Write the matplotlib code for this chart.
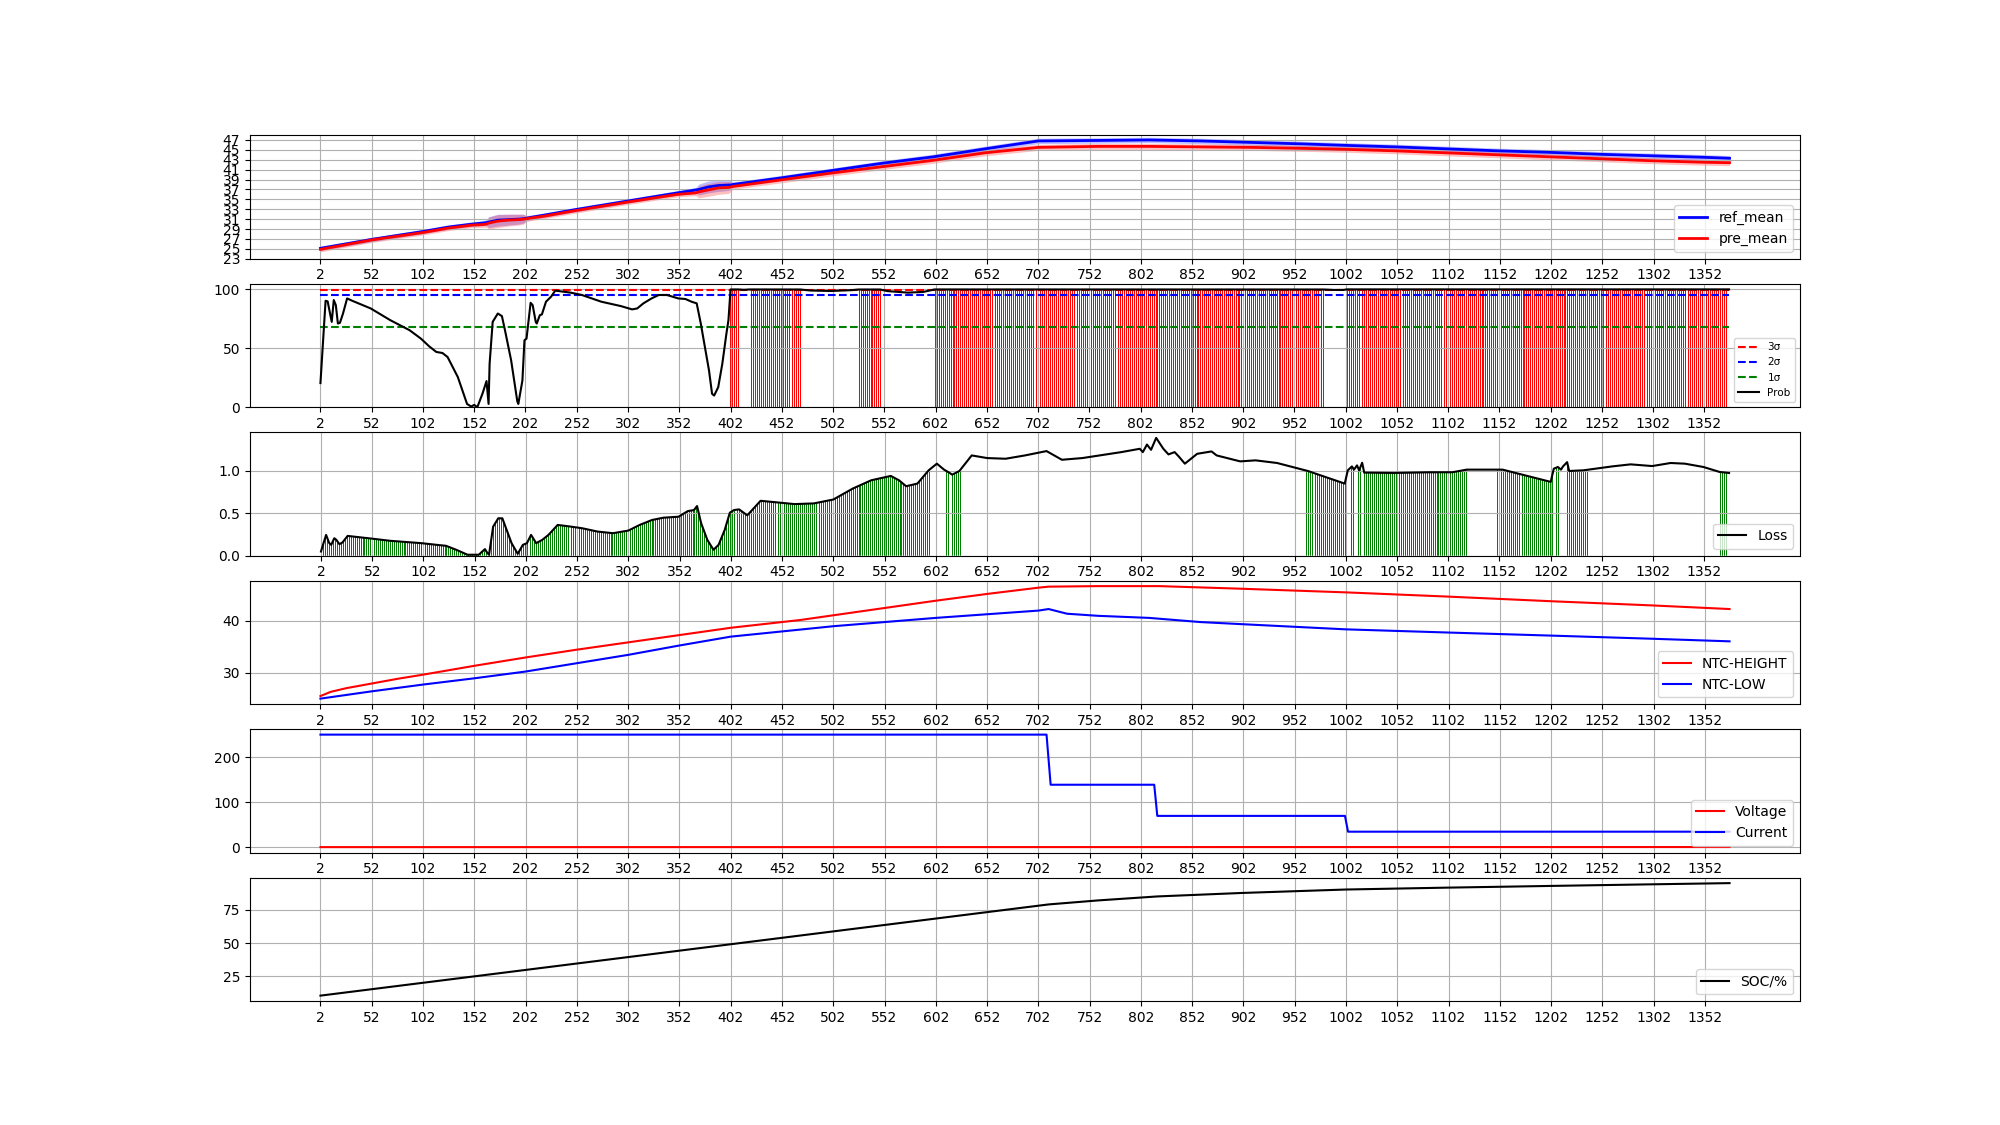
import numpy as np
import matplotlib
matplotlib.use("Agg")
import matplotlib.pyplot as plt
from matplotlib.patches import Polygon

# ---------------- data ----------------
X_FIRST, X_LAST, X_STEP = 2, 1376, 2
XTICKS = np.arange(2, 1377, 50)

# panel 1: mean temperatures with spread
T_X = [2, 52, 102, 127, 150, 160, 164, 166, 175, 185, 195, 200, 203, 220, 250, 300, 350, 368, 371, 380, 390, 400,
       402, 404, 450, 500, 550, 600, 650, 702, 760, 810, 860, 910, 960, 1002, 1050, 1100, 1150, 1200, 1250, 1300,
       1350, 1376]
REF_MEAN = [25.1, 26.9, 28.5, 29.4, 30.0, 30.2, 30.3, 30.4, 30.8, 30.9, 31.0, 31.1, 31.2, 31.8, 32.9, 34.6, 36.3,
            36.9, 37.0, 37.5, 37.8, 37.9, 37.9, 38.0, 39.3, 40.8, 42.3, 43.6, 45.2, 46.8, 46.9, 47.0, 46.8, 46.5,
            46.2, 45.9, 45.6, 45.2, 44.8, 44.5, 44.1, 43.8, 43.5, 43.3]
PRE_MEAN = [24.9, 26.8, 28.3, 29.2, 29.8, 29.9, 30.0, 30.2, 30.6, 30.8, 30.9, 31.0, 31.1, 31.6, 32.7, 34.4, 36.0,
            36.3, 36.5, 36.9, 37.3, 37.4, 37.5, 37.6, 38.9, 40.3, 41.6, 42.9, 44.4, 45.5, 45.7, 45.7, 45.6, 45.5,
            45.3, 45.1, 44.8, 44.4, 44.0, 43.6, 43.2, 42.8, 42.5, 42.4]
REF_STD = [0.45, 0.45, 0.45, 0.45, 0.45, 0.5, 0.6, 1.1, 1.2, 1.1, 1.0, 0.9, 0.5, 0.45, 0.45, 0.45, 0.45, 0.5, 1.1,
           1.2, 1.2, 1.1, 0.9, 0.5, 0.5, 0.5, 0.5, 0.55, 0.55, 0.55, 0.55, 0.55, 0.55, 0.55, 0.55, 0.55, 0.55,
           0.55, 0.55, 0.55, 0.55, 0.55, 0.55, 0.55]
PRE_STD = [0.5, 0.5, 0.5, 0.5, 0.5, 0.55, 0.65, 1.2, 1.3, 1.2, 1.1, 1.0, 0.55, 0.5, 0.5, 0.5, 0.5, 0.55, 1.2,
           1.3, 1.3, 1.2, 1.0, 0.55, 0.6, 0.6, 0.6, 0.6, 0.6, 0.6, 0.6, 0.6, 0.6, 0.6, 0.6, 0.6, 0.6,
           0.6, 0.6, 0.6, 0.6, 0.6, 0.6, 0.6]

# panel 2: probability and sigma levels
SIGMA_LEVELS = [99.73, 95.45, 68.27]
SIGMA_LABELS = ["3σ", "2σ", "1σ"]
SIGMA_COLORS = ["red", "blue", "green"]
PROB_X = [2, 7, 9, 13, 15, 17, 19, 21, 24, 28, 33, 51, 70, 89, 100, 108, 115, 121, 126, 136, 145, 149, 152, 155,
          160, 164, 166, 167, 170, 175, 179, 182, 188, 194, 195, 199, 201, 203, 207, 209, 212, 213, 216, 218, 222,
          227, 231, 246, 257, 276, 295, 306, 311, 317, 325, 332, 340, 351, 358, 364, 369, 373, 377, 381, 384, 386,
          390, 394, 398, 400, 402, 410, 415, 421, 470, 480, 500, 520, 527, 548, 555, 575, 590, 601, 981, 990, 1000,
          1003, 1376]
PROB = [20.5, 90.3, 89.8, 72.4, 90.9, 86.6, 71.0, 71.6, 79.5, 92.3, 90.3, 83.8, 73.9, 65.3, 58.2, 51.7, 46.9,
        46.0, 42.6, 25.6, 2.8, 0.6, 2.0, 0.0, 11.4, 22.2, 2.8, 36.9, 72.4, 79.5, 77.3, 65.3, 39.8, 5.1, 2.8, 22.7,
        56.8, 58.2, 88.6, 86.6, 72.4, 71.0, 78.1, 78.7, 89.5, 93.8, 98.9, 97.2, 95.2, 89.5, 85.8, 83.0, 83.8, 88.1,
        92.3, 95.2, 95.2, 92.3, 91.8, 89.5, 88.1, 71.0, 51.1, 31.3, 11.4, 9.9, 17.0, 36.9, 62.5, 73.9, 99.9, 99.9,
        99.6, 99.9, 99.85, 99.0, 98.6, 99.3, 99.85, 99.85, 98.5, 97.2, 97.8, 99.9, 99.85, 99.5, 99.5, 99.95, 99.95]
RED_RANGES = [(402, 410), (422, 470), (528, 548), (602, 980), (1004, 1376)]

# panel 3: loss
LOSS_X = [2, 7, 10, 12, 15, 17, 20, 23, 28, 51, 70, 100, 115, 124, 134, 145, 156, 162, 164, 166, 170, 175, 179,
          182, 188, 194, 199, 203, 207, 212, 218, 224, 227, 233, 246, 257, 272, 287, 302, 313, 325, 336, 351, 360,
          366, 369, 373, 379, 385, 390, 396, 401, 405, 410, 418, 431, 464, 483, 502, 521, 539, 558, 566, 573, 584,
          595, 603, 610, 614, 618, 625, 637, 652, 670, 689, 710, 725, 745, 783, 801, 804, 808, 812, 817, 824, 829,
          835, 839, 845, 857, 871, 876, 899, 914, 935, 965, 1001, 1004, 1008, 1010, 1013, 1015, 1018, 1020, 1049,
          1084, 1106, 1120, 1155, 1202, 1205, 1209, 1212, 1214, 1218, 1220, 1234, 1262, 1280, 1301, 1319, 1333,
          1351, 1367, 1376]
LOSS = [0.05, 0.245, 0.15, 0.128, 0.206, 0.187, 0.136, 0.156, 0.233, 0.202, 0.175, 0.148, 0.128, 0.117, 0.07,
        0.012, 0.012, 0.078, 0.039, 0.012, 0.342, 0.44, 0.44, 0.342, 0.148, 0.023, 0.128, 0.148, 0.245, 0.148,
        0.187, 0.245, 0.284, 0.362, 0.342, 0.323, 0.284, 0.265, 0.296, 0.362, 0.42, 0.447, 0.459, 0.525, 0.537,
        0.584, 0.381, 0.187, 0.07, 0.128, 0.304, 0.506, 0.537, 0.545, 0.475, 0.646, 0.607, 0.615, 0.661, 0.79,
        0.887, 0.938, 0.887, 0.817, 0.848, 1.004, 1.082, 1.012, 0.984, 0.953, 0.996, 1.179, 1.148, 1.14, 1.179,
        1.23, 1.128, 1.148, 1.218, 1.257, 1.218, 1.307, 1.245, 1.385, 1.257, 1.191, 1.218, 1.167, 1.082, 1.198,
        1.226, 1.179, 1.109, 1.121, 1.09, 0.996, 0.848, 1.004, 1.05, 1.012, 1.062, 1.004, 1.093, 0.977, 0.973,
        0.981, 0.981, 1.012, 1.012, 0.868, 1.023, 1.043, 1.012, 1.05, 1.1, 0.996, 1.004, 1.05, 1.074, 1.054,
        1.09, 1.082, 1.043, 0.984, 0.973]
GREEN_RANGES = [(2, 596), (612, 614), (618, 626), (964, 1002), (1008, 1010), (1014, 1016), (1020, 1120),
                (1150, 1204), (1208, 1210), (1218, 1238), (1368, 1376)]

# panel 4: NTC
NTC_H_X = [2, 12, 27, 52, 77, 102, 152, 202, 252, 302, 352, 402, 470, 552, 602, 652, 702, 712, 760, 820, 900,
           1002, 1100, 1202, 1300, 1376]
NTC_HEIGHT = [25.5, 26.3, 27.0, 27.9, 28.8, 29.6, 31.3, 32.9, 34.4, 35.8, 37.2, 38.6, 40.1, 42.4, 43.8, 45.1,
              46.3, 46.5, 46.6, 46.6, 46.1, 45.4, 44.6, 43.7, 42.9, 42.2]
NTC_L_X = [2, 52, 102, 152, 202, 252, 302, 352, 402, 452, 502, 552, 602, 652, 702, 712, 730, 760, 810, 860, 900,
           1002, 1100, 1202, 1300, 1376]
NTC_LOW = [25.0, 26.4, 27.7, 28.9, 30.2, 31.8, 33.4, 35.2, 36.9, 37.9, 38.9, 39.7, 40.5, 41.2, 41.9, 42.2, 41.3,
           40.9, 40.5, 39.7, 39.3, 38.3, 37.7, 37.1, 36.5, 36.0]

# panel 5: voltage / current
VOLT_X = [2, 712, 818, 1002, 1376]
VOLTAGE = [0.8, 0.9, 0.95, 1.0, 1.0]
CUR_X = [2, 710, 714, 815, 818, 1001, 1004, 1376]
CURRENT = [250, 250, 139, 139, 70, 70, 35, 35]

# panel 6: SOC
SOC_X = [2, 712, 760, 818, 900, 1002, 1100, 1202, 1300, 1376]
SOC = [10.5, 79.0, 82.0, 85.0, 87.6, 90.2, 91.6, 92.9, 94.1, 95.0]


def range_positions(ranges):
    return np.concatenate([np.arange(a, b + 1, X_STEP) for a, b in ranges])


def clipped_bars(ax, ranges, curve_x, curve_y, color):
    xs = range_positions(ranges)
    cont = ax.bar(xs, np.full(len(xs), max(curve_y)), width=1.0, color=color, linewidth=0)
    verts = [(curve_x[0], 0)] + list(zip(curve_x, curve_y)) + [(curve_x[-1], 0)]
    clip = Polygon(verts, closed=True, transform=ax.transData)
    for p in cont:
        p.set_clip_path(clip)
    return cont


fig, axes = plt.subplots(6, 1, figsize=(20, 11.25), dpi=100)

# panel 1
ax = axes[0]
ref = np.array(REF_MEAN); pre = np.array(PRE_MEAN)
ax.fill_between(T_X, ref - np.array(REF_STD), ref + np.array(REF_STD), color="blue", alpha=0.25, linewidth=0)
ax.fill_between(T_X, pre - np.array(PRE_STD), pre + np.array(PRE_STD), color="red", alpha=0.25, linewidth=0)
ax.plot(T_X, REF_MEAN, color="blue", lw=2, label="ref_mean")
ax.plot(T_X, PRE_MEAN, color="red", lw=2, label="pre_mean")
ax.set_ylim(23, 48)
ax.set_yticks(np.arange(23, 48, 2))
ax.legend(loc="lower right")

# panel 2
ax = axes[1]
clipped_bars(ax, RED_RANGES, PROB_X, PROB, "red")
for lvl, lab, col in zip(SIGMA_LEVELS, SIGMA_LABELS, SIGMA_COLORS):
    ax.plot([X_FIRST, X_LAST], [lvl, lvl], color=col, ls="--", lw=1.5, label=lab)
ax.plot(PROB_X, PROB, color="black", lw=1.5, label="Prob")
ax.legend(loc="lower right", fontsize=7.5)

# panel 3
ax = axes[2]
clipped_bars(ax, GREEN_RANGES, LOSS_X, LOSS, "green")
ax.plot(LOSS_X, LOSS, color="black", lw=1.5, label="Loss")
ax.legend(loc="lower right")

# panel 4
ax = axes[3]
ax.plot(NTC_H_X, NTC_HEIGHT, color="red", lw=1.5, label="NTC-HEIGHT")
ax.plot(NTC_L_X, NTC_LOW, color="blue", lw=1.5, label="NTC-LOW")
ax.legend(loc="lower right")

# panel 5
ax = axes[4]
ax.plot(VOLT_X, VOLTAGE, color="red", lw=1.5, label="Voltage")
ax.plot(CUR_X, CURRENT, color="blue", lw=1.5, label="Current")
ax.legend(loc="lower right")

# panel 6
ax = axes[5]
ax.plot(SOC_X, SOC, color="black", lw=1.5, label="SOC/%")
ax.legend(loc="lower right")

for ax in axes:
    ax.set_xticks(XTICKS)
    ax.grid(True)

fig.savefig("out.png", dpi=100)
